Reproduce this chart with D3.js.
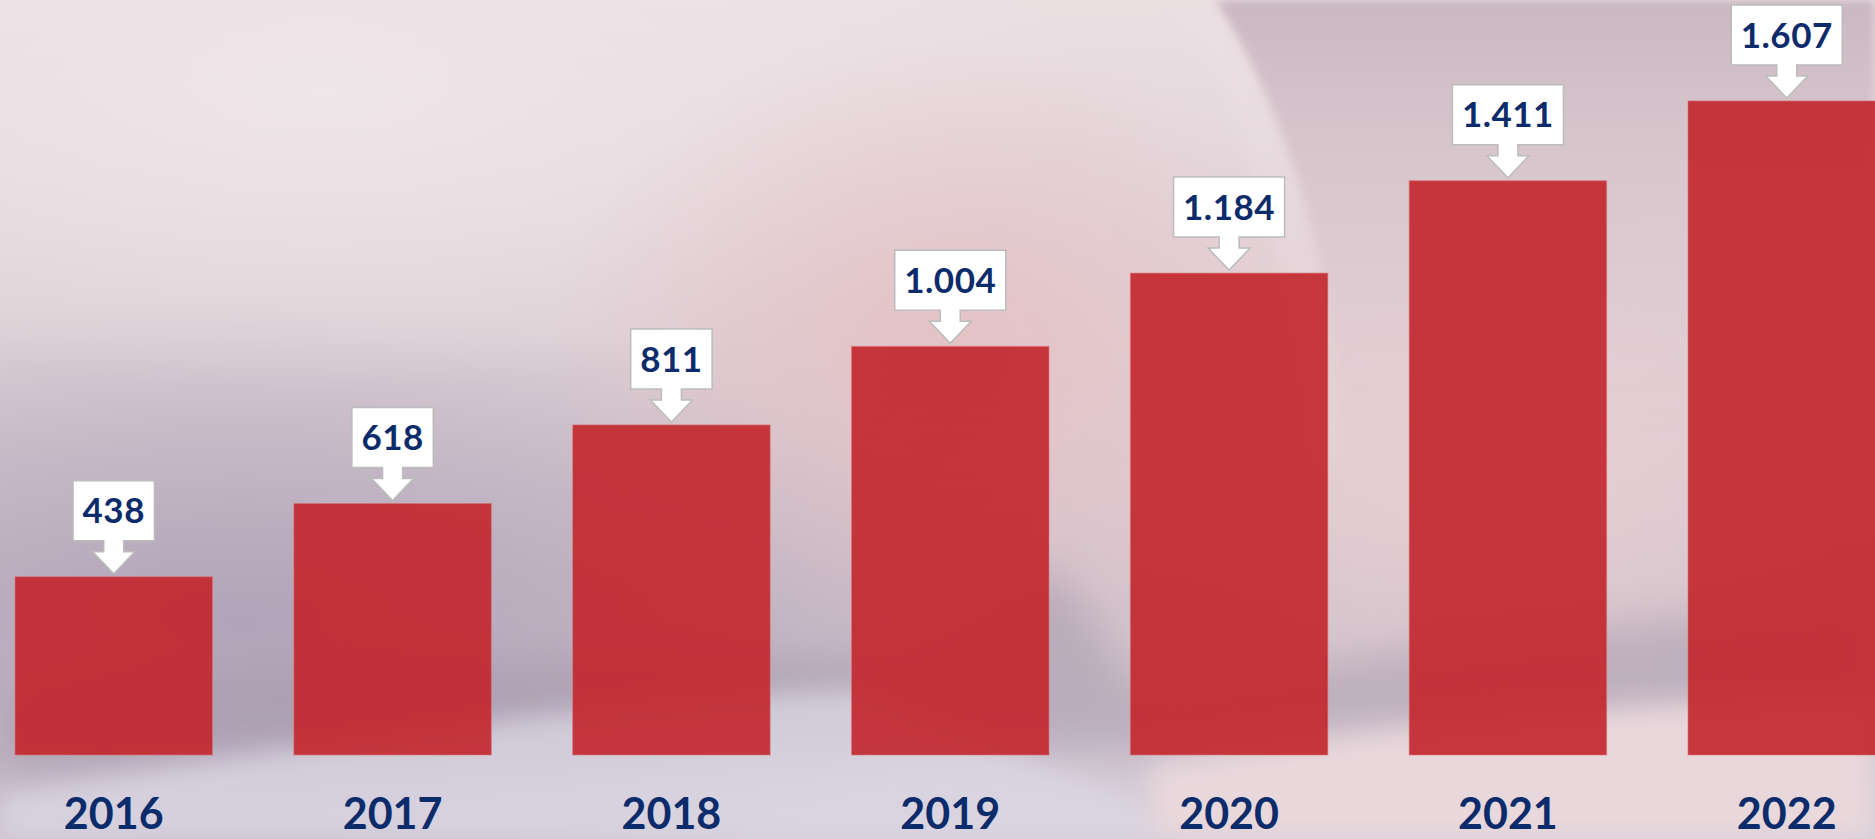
<!DOCTYPE html>
<html>
<head>
<meta charset="utf-8">
<script src="https://cdn.jsdelivr.net/npm/d3@7"></script>
<style>
  html, body { margin: 0; padding: 0; overflow: hidden; }
  svg { display: block; }
</style>
</head>
<body>
<svg id="chart"></svg>
<script>
// chart data
const years = ['2016', '2017', '2018', '2019', '2020', '2021', '2022'];
const values = [438, 618, 811, 1004, 1184, 1411, 1607];

const W = 1875, H = 839;
const baseline = 755;
const navy = '#0c2b6a';
const font = 'Lato, "Open Sans", sans-serif';

const svg = d3.select('#chart').attr('width', W).attr('height', H);
const defs = svg.append('defs');

// --- background (soft photographic look) ---
const blur = (id, sd) => defs.append('filter').attr('id', id)
  .attr('x', '-30%').attr('y', '-30%').attr('width', '160%').attr('height', '160%')
  .append('feGaussianBlur').attr('stdDeviation', sd);
blur('b4', 4); blur('b12', 12); blur('b20', 20);

const radial = (id, color, o0) => {
  const g = defs.append('radialGradient').attr('id', id);
  g.append('stop').attr('offset', '0%').attr('stop-color', color).attr('stop-opacity', o0);
  g.append('stop').attr('offset', '100%').attr('stop-color', color).attr('stop-opacity', 0);
};
radial('lav', '#b0a3b8', 0.95);
radial('lite', '#efe6e9', 1);
radial('pink', '#e6c0c3', 0.85);
radial('rpink', '#e9d0d4', 0.9);

const base = defs.append('linearGradient').attr('id', 'base')
  .attr('x1', 0).attr('y1', 0).attr('x2', 0).attr('y2', 1);
[[0, '#ebdfe2'], [0.4, '#ddd0d6'], [0.72, '#cbbdc8'], [1, '#d6cdd8']]
  .forEach(([o, c]) => base.append('stop').attr('offset', o).attr('stop-color', c));

const mauve = defs.append('linearGradient').attr('id', 'mauve')
  .attr('x1', 0).attr('y1', 0).attr('x2', 0).attr('y2', 1);
mauve.append('stop').attr('offset', 0).attr('stop-color', '#c8b5c0').attr('stop-opacity', 0.95);
mauve.append('stop').attr('offset', 1).attr('stop-color', '#e0c7cc').attr('stop-opacity', 0);

const bg = svg.append('g');
bg.append('rect').attr('width', W).attr('height', H).attr('fill', 'url(#base)');
bg.append('ellipse').attr('cx', 240).attr('cy', 620).attr('rx', 760).attr('ry', 320).attr('fill', 'url(#lav)');
bg.append('ellipse').attr('cx', 320).attr('cy', 90).attr('rx', 760).attr('ry', 300).attr('fill', 'url(#lite)');
bg.append('ellipse').attr('cx', 1480).attr('cy', 470).attr('rx', 640).attr('ry', 340).attr('fill', 'url(#rpink)');
bg.append('ellipse').attr('cx', 950).attr('cy', 340).attr('rx', 400).attr('ry', 300).attr('fill', 'url(#pink)');

// curled sheet edge, top right
bg.append('path')
  .attr('d', 'M1215,0 C1285,110 1335,260 1345,460 L1875,460 L1875,0 Z')
  .attr('fill', 'url(#mauve)').attr('filter', 'url(#b4)');
bg.append('path')
  .attr('d', 'M1192,0 C1262,110 1312,260 1322,460')
  .attr('fill', 'none').attr('stroke', '#f1e3e6').attr('stroke-width', 18)
  .attr('opacity', 0.5).attr('filter', 'url(#b12)');

// shadows and light paper at the bottom
bg.append('path')
  .attr('d', 'M0,690 C300,660 600,645 900,655 L1055,565 L1140,690 C1400,650 1600,620 1875,610 L1875,700 C1500,710 1300,730 1150,750 L0,770 Z')
  .attr('fill', '#9a8fa1').attr('opacity', 0.42).attr('filter', 'url(#b20)');
bg.append('path')
  .attr('d', 'M0,795 C300,745 600,700 860,690 C950,730 1050,770 1150,805 L1150,839 L0,839 Z')
  .attr('fill', '#dcd8e5').attr('opacity', 0.75).attr('filter', 'url(#b12)');
bg.append('path')
  .attr('d', 'M1150,765 C1400,725 1650,705 1875,695 L1875,839 L1150,839 Z')
  .attr('fill', '#ecdadd').attr('opacity', 0.85).attr('filter', 'url(#b12)');

// --- scales ---
const x = d3.scaleBand()
  .domain(years)
  .range([15, 1885.5])
  .paddingInner(0.2917)
  .paddingOuter(0);

const y = d3.scaleLinear()
  .domain([0, 1855])
  .range([baseline, 0]);

const fmt = d3.formatLocale({ decimal: ',', thousands: '.', grouping: [3], currency: ['', ''] }).format(',d');

// --- bars ---
svg.append('g').selectAll('rect.bar')
  .data(values)
  .enter().append('rect')
  .attr('class', 'bar')
  .attr('x', (d, i) => x(years[i]))
  .attr('y', d => y(d))
  .attr('width', x.bandwidth())
  .attr('height', d => baseline - y(d))
  .attr('fill', '#c2252b')
  .attr('fill-opacity', 0.9)
  .attr('stroke', '#d9767a')
  .attr('stroke-opacity', 0.6)
  .attr('stroke-width', 1);

// --- year labels ---
svg.append('g').selectAll('text.year')
  .data(years)
  .enter().append('text')
  .attr('class', 'year')
  .attr('x', d => x(d) + x.bandwidth() / 2)
  .attr('y', 829)
  .attr('text-anchor', 'middle')
  .style('font-family', font)
  .style('font-weight', 700)
  .style('font-size', '43px')
  .style('fill', navy)
  .text(d => d);

// --- value callouts (box with arrow pointing down to the bar) ---
const boxH = 60, shaftW = 20, shaftH = 11, headW = 42, headH = 22, gap = 3;

const callouts = svg.append('g').selectAll('g.callout')
  .data(values)
  .enter().append('g')
  .attr('class', 'callout');

callouts.each(function(d, i) {
  const g = d3.select(this);
  const cx = x(years[i]) + x.bandwidth() / 2;
  const tip = y(d) - gap;
  const bBottom = tip - headH - shaftH;
  const bTop = bBottom - boxH;

  const label = g.append('text')
    .attr('x', cx)
    .attr('y', (bTop + bBottom) / 2)
    .attr('dy', '0.36em')
    .attr('text-anchor', 'middle')
    .style('font-family', font)
    .style('font-weight', 700)
    .style('font-size', '35px')
    .style('letter-spacing', '0.5px')
    .style('fill', navy)
    .text(fmt(d));

  const tw = label.node().getComputedTextLength();
  const bw = tw + 19;
  const l = cx - bw / 2, r = cx + bw / 2;

  const p = d3.path();
  p.moveTo(l, bTop);
  p.lineTo(r, bTop);
  p.lineTo(r, bBottom);
  p.lineTo(cx + shaftW / 2, bBottom);
  p.lineTo(cx + shaftW / 2, bBottom + shaftH);
  p.lineTo(cx + headW / 2, bBottom + shaftH);
  p.lineTo(cx, tip);
  p.lineTo(cx - headW / 2, bBottom + shaftH);
  p.lineTo(cx - shaftW / 2, bBottom + shaftH);
  p.lineTo(cx - shaftW / 2, bBottom);
  p.lineTo(l, bBottom);
  p.closePath();

  g.insert('path', 'text')
    .attr('d', p.toString())
    .attr('fill', '#ffffff')
    .attr('stroke', '#bcbcbc')
    .attr('stroke-width', 1.5)
    .attr('stroke-linejoin', 'miter');
});
</script>
</body>
</html>
